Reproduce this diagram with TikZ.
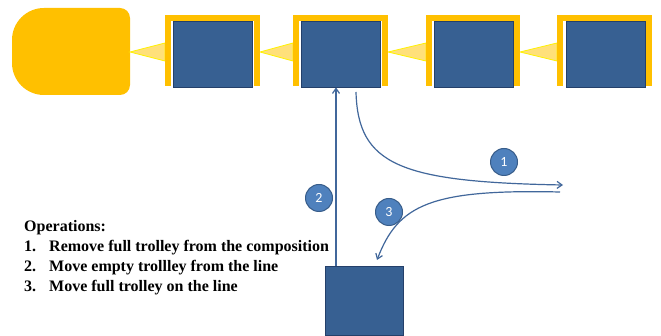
\documentclass[tikz,border=0pt]{standalone}
\usepackage{fontspec}
\setmainfont{Liberation Serif}
\newfontfamily\numfont{Carlito}
\usetikzlibrary{arrows.meta}
\definecolor{locoY}{HTML}{FFC000}
\definecolor{boxB}{HTML}{376092}
\definecolor{boxD}{HTML}{24406A}
\definecolor{arrB}{HTML}{41679B}
\definecolor{circF}{HTML}{4F81BD}
\definecolor{circD}{HTML}{385D8A}
\definecolor{triF}{HTML}{FFE07A}
\definecolor{triE}{HTML}{FFF200}
\tikzset{
  trolley/.style={draw=boxD, fill=boxB, line width=0.8pt, minimum width=79pt, minimum height=66pt, inner sep=0pt},
  bracket/.style={draw=locoY, line width=6pt},
  coupler/.style={fill=triF, draw=triE, line width=0.8pt},
  flow/.style={draw=arrB, line width=1.2pt, -{Straight Barb[length=5pt,width=7pt]}},
  stepnum/.style={circle, fill=circF, draw=circD, line width=1pt, minimum size=27pt, inner sep=0pt, text=white, font=\numfont\fontsize{14}{14}\selectfont},
}
\begin{document}
\begin{tikzpicture}[x=1pt,y=-1pt]
\useasboundingbox[fill=white] (0,0) rectangle (661,336);
% locomotive
\fill[locoY] (44,8) -- (120,8) .. controls (125.5,8) and (130,12.5) .. (130,18) -- (130,85)
  .. controls (130,90.5) and (125.5,95) .. (120,95) -- (44,95)
  .. controls (26.3,95) and (12,80.7) .. (12,63) -- (12,40)
  .. controls (12,22.3) and (26.3,8) .. (44,8) -- cycle;
% couplers
\foreach \t/\b in {130/165, 260/293, 388/426, 520/557} {
  \filldraw[coupler] (\t,52) -- (\b,43) -- (\b,61) -- cycle;
}
% brackets
\foreach \l/\r in {165/260, 293/388, 426/520, 557/652} {
  \draw[bracket] (\l+3,86) -- (\l+3,18) -- (\r-3,18) -- (\r-3,86);
}
% trolleys
\node[trolley] (t1) at (212.5,54) {};
\node[trolley] (t2) at (341,54) {};
\node[trolley] (t3) at (473.5,54) {};
\node[trolley] (t4) at (605.5,54) {};
\node[trolley, minimum width=78pt, minimum height=69pt] (tb) at (364,300.5) {};
% flows
\coordinate (a1s) at (356,92);
\coordinate (a1e) at (563,185);
\coordinate (a3s) at (560,192);
\coordinate (a3e) at (377,260);
\draw[flow] (a1s) .. controls (358,165) and (400,182) .. (a1e);
\draw[flow] (a3s) .. controls (430,189) and (398,205) .. (a3e);
\draw[flow] (tb.north -| 336,0) -- (t2.south -| 336,0);
% step numbers
\node[stepnum] (n1) at (504,162) {1};
\node[stepnum] (n2) at (319,198) {2};
\node[stepnum] (n3) at (389,212) {3};
% text
\begin{scope}[every node/.style={anchor=base west, inner sep=0pt, font=\bfseries\fontsize{16}{16}\selectfont}]
\node (op) at (24,232) {Operations:};
\node (o1n) at (24,252) {1.};
\node (o1) at (49,252) {Remove full trolley from the composition};
\node (o2n) at (24,272) {2.};
\node (o2) at (49,272) {Move empty trollley from the line};
\node (o3n) at (24,292) {3.};
\node (o3) at (49,292) {Move full trolley on the line};
\end{scope}
\end{tikzpicture}
\end{document}
